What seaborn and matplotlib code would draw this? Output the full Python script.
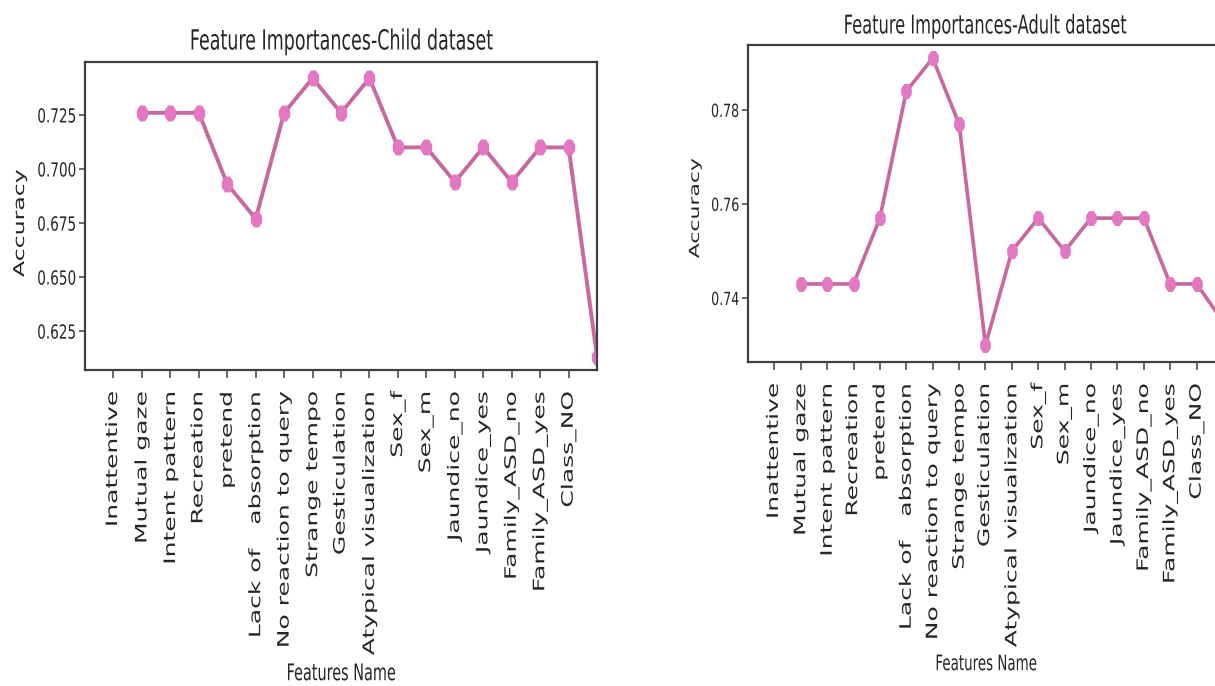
import os
import numpy as np
import matplotlib
matplotlib.use("Agg")
import matplotlib.pyplot as plt
import seaborn as sns
import pandas as pd
from matplotlib.font_manager import FontProperties
from matplotlib.patheffects import AbstractPathEffect
from matplotlib.transforms import Affine2D

sns.set_style("ticks")

features = ["Inattentive", "Mutual gaze", "Intent pattern", "Recreation", "pretend",
            "Lack of   absorption", "No reaction to query", "Strange tempo", "Gesticulation",
            "Atypical visualization", "Sex_f", "Sex_m", "Jaundice_no", "Jaundice_yes",
            "Family_ASD_no", "Family_ASD_yes", "Class_NO"]

# accuracy after dropping each feature (positions 1..17)
child_acc = [0.726, 0.726, 0.726, 0.693, 0.677, 0.726, 0.742, 0.726, 0.742,
             0.710, 0.710, 0.694, 0.710, 0.694, 0.710, 0.710, 0.613]
adult_acc = [0.743, 0.743, 0.743, 0.757, 0.784, 0.791, 0.777, 0.730, 0.750,
             0.757, 0.750, 0.757, 0.757, 0.757, 0.743, 0.743, 0.735]

child_yticks = [0.625, 0.650, 0.675, 0.700, 0.725]
child_ylabels = ["0.625", "0.650", "0.675", "0.700", "0.725"]
adult_yticks = [0.74, 0.76, 0.78]
adult_ylabels = ["0.74", "0.76", "0.78"]

# text and markers are drawn horizontally narrowed by this factor
SX = 0.63

DEJAVU = FontProperties(fname=os.path.join(matplotlib.get_data_path(),
                                           "fonts", "ttf", "DejaVuSans.ttf"))


def font(size):
    fp = DEJAVU.copy()
    fp.set_size(size)
    return fp


class Squeeze(AbstractPathEffect):
    """Scale a text path in its own coordinates around a chosen anchor."""

    def __init__(self, sx=1.0, sy=1.0, anchor="center"):
        super().__init__()
        self.sx, self.sy, self.anchor = sx, sy, anchor

    def draw_path(self, renderer, gc, tpath, affine, rgbFace=None):
        ext = tpath.get_extents()
        cx = ext.x1 if self.anchor == "right" else (ext.x0 + ext.x1) / 2
        cy = (ext.y0 + ext.y1) / 2
        t = Affine2D().translate(-cx, -cy).scale(self.sx, self.sy).translate(cx, cy)
        renderer.draw_path(gc, tpath, t + affine, rgbFace)


H_CENTER = [Squeeze(sx=SX)]
V_CENTER = [Squeeze(sy=SX)]
# tick numbers: small base size, drawn narrow and tall
NUMBERS = [Squeeze(sx=0.89, sy=1.27, anchor="right")]

LINE = "#c8689f"
MARK = "#e377c2"
SPINE = "#404040"
TEXT = "#262626"

# narrowed octagon marker
ang = np.deg2rad(22.5 + 45 * np.arange(9))
MARKER = list(zip(0.68 * np.cos(ang), np.sin(ang)))

fig = plt.figure(figsize=(12.15, 6.86), dpi=100)
ax1 = fig.add_axes([0.070, 0.4606, 0.4214, 0.449])
ax2 = fig.add_axes([0.6156, 0.4723, 0.391, 0.462])


def draw(ax, acc, yticks, ylabels, ylim, title, ylabel_pos, k=1.0):
    df = pd.DataFrame({"pos": range(1, len(acc) + 1), "acc": acc})
    sns.lineplot(data=df, x="pos", y="acc", ax=ax, color=LINE, linewidth=2.8 * k,
                 marker=MARKER, markersize=10.5 * k, markerfacecolor=MARK,
                 markeredgecolor=MARK, markeredgewidth=1.0)
    ax.set_xlim(-1, 17)
    ax.set_ylim(*ylim)
    ax.set_xticks(range(len(features)))
    ax.set_xticklabels(features, rotation=90, fontproperties=font(18), color=TEXT)
    for t in ax.get_xticklabels():
        t.set_path_effects(V_CENTER)
    ax.set_yticks(yticks)
    ax.set_yticklabels(ylabels, fontproperties=font(11 * k), color=TEXT)
    for t in ax.get_yticklabels():
        t.set_path_effects(NUMBERS)
    ttl = ax.set_title(title, fontproperties=font(20 * k), pad=9 * k, color=TEXT)
    ttl.set_path_effects(H_CENTER)
    xl = ax.set_xlabel("Features Name", fontproperties=font(16.5 * k), color=TEXT,
                       labelpad=5)
    xl.set_path_effects(H_CENTER)
    yl = ax.set_ylabel("Accuracy", fontproperties=font(17 * k), color=TEXT)
    yl.set_path_effects(V_CENTER)
    ax.yaxis.set_label_coords(*ylabel_pos)
    for s in ax.spines.values():
        s.set_visible(True)
        s.set_color(SPINE)
        s.set_linewidth(1.6)
    ax.tick_params(axis="x", length=6, width=1.1, color=SPINE, pad=9)
    ax.tick_params(axis="y", length=4.5 * k, width=1.1, color=SPINE, pad=2)


draw(ax1, child_acc, child_yticks, child_ylabels, (0.607, 0.7495),
     "Feature Importances-Child dataset", (-0.105, 0.477))
draw(ax2, adult_acc, adult_yticks, adult_ylabels, (0.7264, 0.7938),
     "Feature Importances-Adult dataset", (-0.0903, 0.486), k=0.93)

fig.savefig("out.png", dpi=100)
